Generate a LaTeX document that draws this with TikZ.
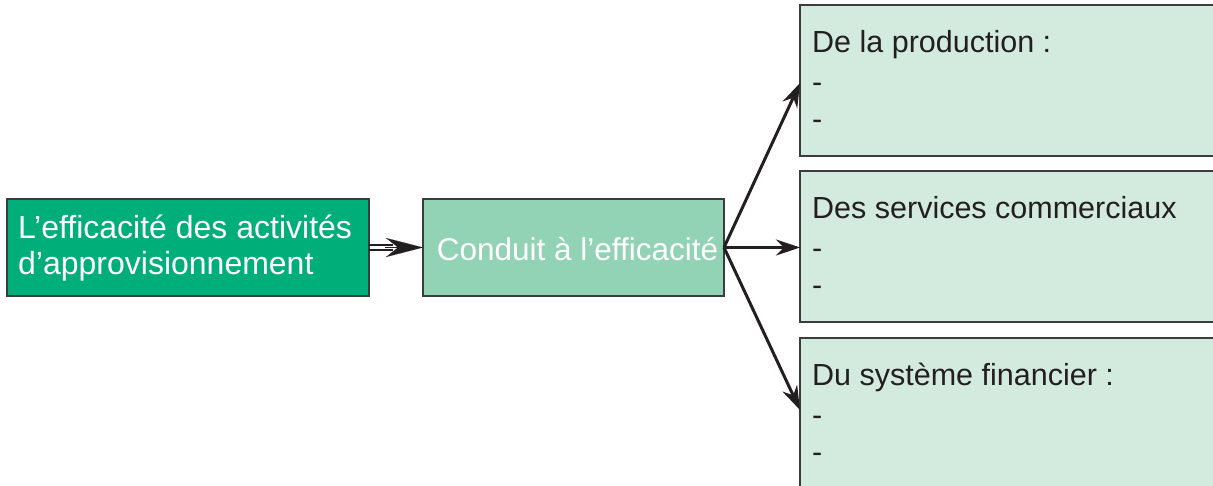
\documentclass[tikz,border=0pt]{standalone}
\usepackage{fontspec}
\setmainfont{Liberation Sans}
\usetikzlibrary{arrows.meta,calc}
\definecolor{dkgreen}{HTML}{00AE7A}
\definecolor{midgreen}{HTML}{93D3B5}
\definecolor{ltgreen}{HTML}{D3EADF}
\definecolor{edge}{HTML}{3C3C3C}
\definecolor{ink}{HTML}{231F20}
\tikzset{
  boxbase/.style={draw=edge, line width=1.2pt, inner sep=0pt, outer sep=0pt},
  srcbox/.style={boxbase, fill=dkgreen, minimum width=362pt, minimum height=97pt},
  midbox/.style={boxbase, fill=midgreen, minimum width=301pt, minimum height=97pt},
  outbox/.style={boxbase, fill=ltgreen, minimum width=440pt, minimum height=151pt, anchor=north west},
  whitetxt/.style={text=white, font=\fontsize{32}{36.3}\selectfont, inner sep=0pt, align=left},
  darktxt/.style={text=ink, font=\fontsize{30.5}{37}\selectfont, inner sep=0pt, align=left, anchor=north west},
  conn/.style={draw=ink, line width=3pt, -{Stealth[length=24pt, width=16pt]}},
}
\begin{document}
\begin{tikzpicture}[x=1pt, y=1pt]
\useasboundingbox (0,0) rectangle (1213,486);
\clip (0,0) rectangle (1213,486);
% source box
\node[srcbox] (src) at (188,238.5) {};
\node[whitetxt, anchor=north west] (srctxt) at (18,271.5) {L’efficacité des activités\\d’approvisionnement};
% middle box
\node[midbox] (mid) at (573.5,238.5) {};
\node[whitetxt, font=\fontsize{31.5}{36}\selectfont] (midtxt) at (577.5,237) {Conduit à l’efficacité};
% output boxes
\node[outbox] (b1) at (800,481) {};
\node[outbox] (b2) at (800,315) {};
\node[outbox, minimum height=170pt] (b3) at (800,148) {};
\node[darktxt] (t1) at (812,456) {De la production :\\[3pt]-\\-};
\node[darktxt] (t2) at (812,290) {Des services commerciaux\\[3pt]-\\-};
\node[darktxt] (t3) at (812,123) {Du système financier :\\[3pt]-\\-};
% double arrow
\draw[draw=ink, line width=2.2pt] ($(src.east)+(0,2.4)$) -- ++(24,0);
\draw[draw=ink, line width=2.2pt] ($(src.east)+(0,-2.4)$) -- ++(24,0);
\draw[draw=ink, line width=0.1pt, -{Stealth[length=37pt, width=19pt]}] ($(src.east)+(16,0)$) -- (mid.west);
% fan-out arrows
\coordinate (e1) at (800,403);
\coordinate (e3) at (800,76);
\draw[conn] (mid.east) -- (e1);
\draw[conn] (mid.east) -- (b2.west |- mid.east);
\draw[conn] (mid.east) -- (e3);
\end{tikzpicture}
\end{document}
